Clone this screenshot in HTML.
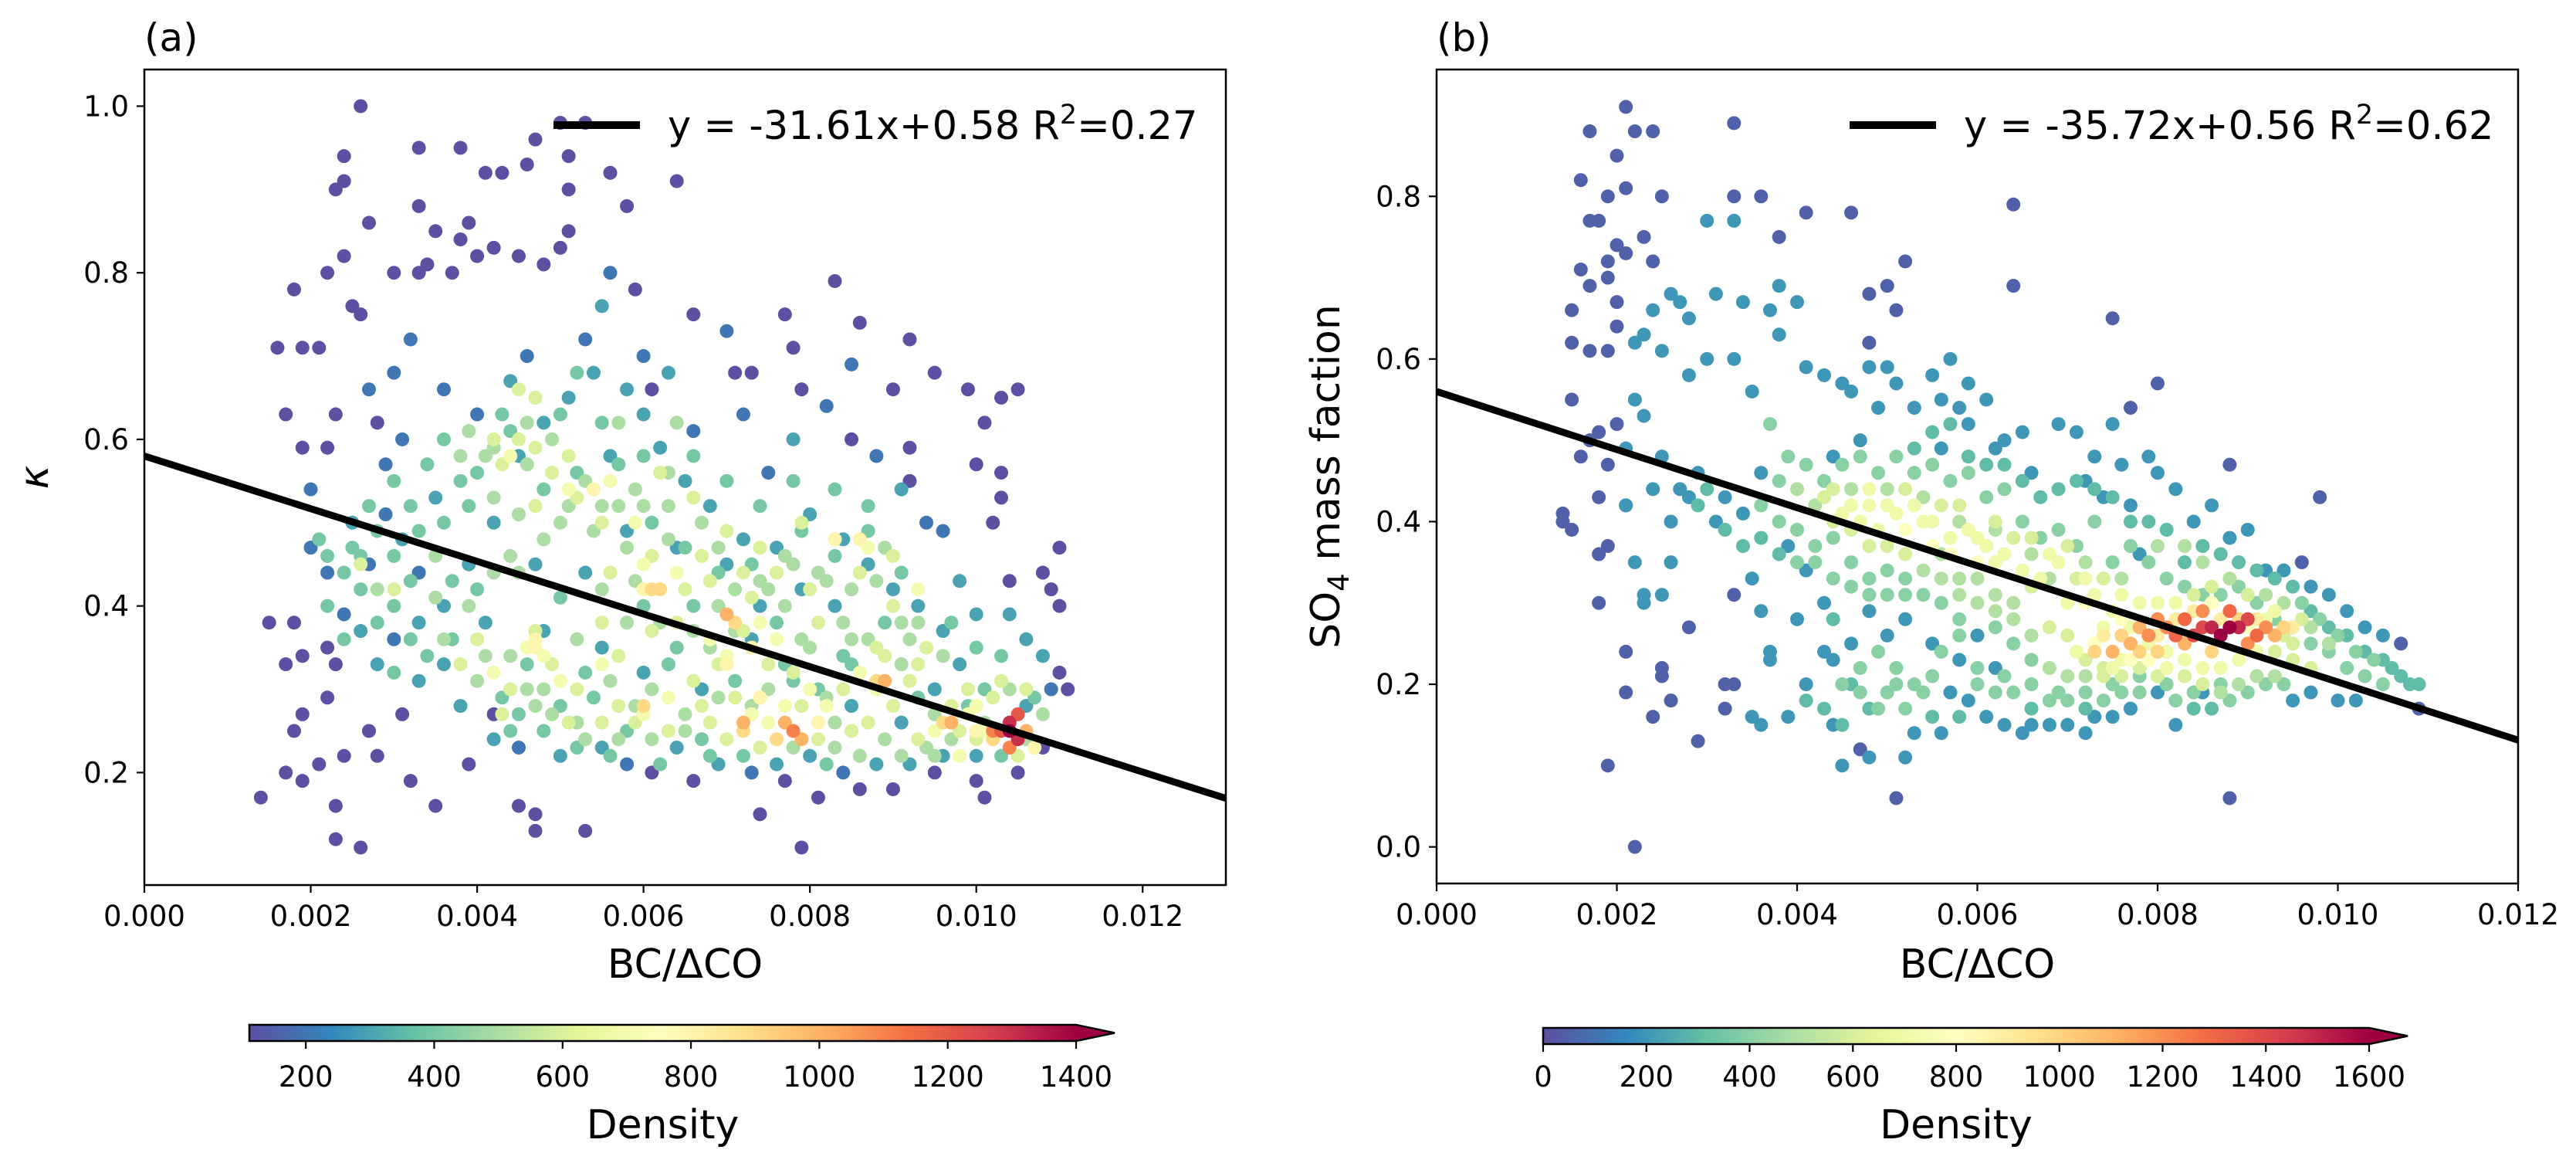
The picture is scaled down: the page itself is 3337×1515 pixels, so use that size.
<!DOCTYPE html>
<html><head><meta charset="utf-8">
<style>
html,body{margin:0;padding:0;background:#fff;}
svg{display:block;font-family:"DejaVu Sans","Liberation Sans",sans-serif;}
</style></head>
<body>
<svg id="fig" width="3337" height="1515" viewBox="0 0 3337 1515" xmlns="http://www.w3.org/2000/svg">
<defs>
<linearGradient id="cmap" x1="0" x2="1" y1="0" y2="0">
<stop offset="0" stop-color="#5e4fa2"/><stop offset="0.1" stop-color="#3288bd"/><stop offset="0.2" stop-color="#66c2a5"/><stop offset="0.3" stop-color="#abdda4"/><stop offset="0.4" stop-color="#e6f598"/><stop offset="0.5" stop-color="#ffffbf"/><stop offset="0.6" stop-color="#fee08b"/><stop offset="0.7" stop-color="#fdae61"/><stop offset="0.8" stop-color="#f46d43"/><stop offset="0.9" stop-color="#d53e4f"/><stop offset="1" stop-color="#9e0142"/>
</linearGradient>
<clipPath id="clipA"><rect x="187" y="90" width="1401" height="1056"/></clipPath>
<clipPath id="clipB"><rect x="1861" y="90" width="1401" height="1054"/></clipPath>
</defs>
<g id="panelA"></g>
<g id="panelB"></g>
</svg>
<script>
// ---------- Panel (a) data: [x*1e4, y*100, density/100]
const pointsA = [[26,100,1],[50,98,1],[53,98,1],[47,96,1],[33,95,1],[38,95,1],[24,94,1],[46,93,1],[51,94,1],[43,92,1],[41,92,1],[56,92,1],[64,91,1],[23,90,1],[24,91,1],[51,90,1],[58,88,1],[33,88,1],[27,86,1],[39,86,1],[35,85,1],[51,85,1],[38,84,1],[42,83,1],[50,83,1],[40,82,1],[45,82,1],[24,82,1],[48,81,1],[34,81,1],[22,80,1],[30,80,1],[33,80,1],[37,80,1],[18,78,1],[59,78,1],[83,79,1],[25,76,1],[26,75,1],[77,75,1],[66,75,1],[86,74,1],[92,72,1],[16,71,1],[19,71,1],[21,71,1],[78,71,1],[95,68,1],[73,68,1],[71,68,1],[99,66,1],[103,65,1],[105,66,1],[90,66,1],[79,66,1],[61,66,1],[17,63,1],[23,63,1],[28,62,1],[19,59,1],[22,59,1],[85,60,1],[101,62,1],[100,57,1],[92,59,1],[103,56,1],[92,55,1],[103,53,1],[102,50,1],[108,44,1],[110,47,1],[109,42,1],[110,40,1],[104,43,1],[15,38,1],[18,38,1],[14,17,1],[17,20,1],[19,19,1],[21,21,1],[23,16,1],[23,12,1],[26,11,1],[35,16,1],[45,16,1],[47,13,1],[47,15,1],[53,13,1],[79,11,1],[74,15,1],[24,22,1],[27,25,1],[22,29,1],[18,25,1],[19,27,1],[17,33,1],[19,34,1],[22,35,1],[23,33,1],[39,21,1],[42,27,1],[31,27,1],[32,19,1],[28,22,1],[61,20,1],[66,19,1],[77,19,1],[90,18,1],[101,17,1],[108,23,1],[111,30,1],[110,32,1],[105,20,1],[100,19,1],[95,20,1],[86,18,1],[81,17,1],
[20,54,2],[20,47,2],[22,44,2],[25,50,3],[27,45,2],[29,51,2],[31,48,3],[33,44,2],[35,53,3],[29,57,2],[31,60,2],[27,66,2],[30,68,2],[32,72,2],[36,66,2],[40,63,2],[44,67,3],[46,70,2],[53,72,2],[55,76,3],[56,80,2],[60,70,2],[63,68,3],[66,61,2],[70,73,2],[72,63,2],[75,56,2],[78,60,3],[82,64,2],[85,69,2],[88,58,2],[91,54,3],[94,50,2],[96,49,2],[98,43,3],[100,39,3],[104,39,3],[106,36,3],[108,34,3],[109,30,2],[106,28,3],[33,38,3],[36,33,3],[38,28,3],[42,24,3],[45,23,2],[50,22,3],[55,23,3],[58,21,2],[64,23,3],[69,21,3],[73,20,2],[76,21,3],[80,22,3],[84,20,2],[88,21,3],[92,21,3],[96,22,3],[100,22,3],[26,37,3],[24,39,2],[28,33,3],[30,36,2],[33,31,3],[36,40,3],[39,45,3],[42,50,3],[45,58,3],[48,62,3],[51,65,3],[54,68,3],[58,66,3],[62,59,3],[65,55,3],[68,52,3],[72,48,3],[76,47,3],[80,51,3],[84,48,3],[87,45,3],[90,42,3],[93,40,3],[96,37,3],[41,38,3],[47,45,3],[53,44,3],[58,49,3],[64,47,3],[70,45,3],[74,40,3],[79,42,3],[83,40,3],[67,30,3],[60,32,3],[55,35,3],[48,37,3],[85,28,3],[91,26,3],[95,30,3],[98,33,3],[73,36,3],[56,58,3],[60,63,3],
[21,48,4],[24,44,4],[26,46,4],[28,42,5],[30,40,4],[33,49,4],[35,46,5],[37,36,4],[40,31,5],[43,29,4],[44,34,5],[46,33,4],[48,30,5],[50,28,4],[52,26,5],[54,29,4],[56,31,5],[58,25,4],[61,30,5],[63,33,4],[65,27,5],[67,24,4],[69,29,5],[71,31,4],[73,28,5],[75,30,5],[77,33,4],[79,36,5],[81,30,4],[83,26,5],[85,33,4],[87,36,5],[89,38,4],[91,33,5],[93,29,4],[95,27,5],[97,24,5],[99,28,4],[101,26,5],[103,22,4],[106,24,5],[40,56,4],[42,59,5],[44,61,4],[46,57,5],[48,54,4],[50,50,5],[52,56,4],[55,52,5],[57,57,4],[59,54,5],[61,50,4],[63,52,5],[65,47,4],[67,50,5],[69,44,4],[71,42,5],[73,45,4],[75,42,5],[77,46,5],[79,49,4],[81,44,5],[83,46,4],[85,42,5],[87,49,4],[89,47,5],[91,44,4],[93,38,5],[38,58,5],[36,60,4],[39,61,5],[43,63,4],[47,65,5],[52,68,4],[57,62,5],[60,58,4],[64,62,5],[50,41,4],[55,42,5],[60,40,4],[62,38,5],[66,40,4],[71,37,5],[76,38,4],[80,35,5],[84,34,4],[45,44,5],[40,42,4],[35,41,5],[32,43,4],[64,35,4],[68,35,5],[78,31,4],[82,29,5],[59,28,5],[53,32,4],
[45,66,6],[47,65,6],[44,58,7],[47,59,6],[42,60,6],[51,54,7],[52,53,6],[56,55,7],[59,50,7],[62,56,6],[66,53,6],[70,49,6],[74,47,6],[79,50,6],[83,48,7],[87,47,7],[90,46,6],[93,42,7],[40,36,6],[42,32,7],[44,30,6],[46,35,7],[47,37,6],[50,31,7],[52,30,6],[55,33,7],[57,28,6],[60,27,7],[63,29,7],[66,31,6],[68,36,7],[70,34,7],[72,37,6],[74,38,7],[76,36,7],[78,32,6],[80,30,7],[82,28,7],[84,30,6],[86,32,7],[88,30,7],[90,28,6],[92,31,6],[95,25,7],[98,22,7],[100,24,6],[101,25,7],[103,31,6],[105,22,6],[48,34,7],[47,36,8],[60,45,7],[64,44,7],[54,54,8],[30,42,6],[26,45,6],[70,24,6],[74,23,6],[68,26,6],
[47,35,8],[60,42,8],[61,42,9],[62,42,9],[60,28,9],[70,39,10],[71,38,9],[72,26,10],[72,25,9],[73,35,8],[78,25,11],[77,26,10],[79,24,10],[76,24,9],[89,31,10],[88,31,9],[97,26,10],[96,26,9],[102,25,11],[103,25,12],[104,26,13],[104,25,14],[105,24,13],[105,27,12],[104,23,11],[102,24,9],[106,25,10],[74,29,8],[83,48,8],[86,48,8],[100,25,8],[107,23,8],[81,26,8],[70,33,8],
[41,58,5],[43,57,6],[45,60,6],[49,60,5],[51,58,6],[53,55,5],[55,50,6],[57,52,5],[58,47,5],[61,46,6],[63,48,5],[67,46,6],[69,47,5],[72,44,6],[74,43,5],[76,44,6],[78,45,5],[80,42,6],[82,43,5],[86,44,6],[88,43,5],[90,40,6],[92,36,5],[94,35,6],[96,34,5],[99,30,6],[100,28,7],[102,29,6],[104,30,5],[106,30,6],[108,27,5],[97,28,6],[93,33,6],[89,34,6],[85,36,5],[81,38,6],[77,40,5],[73,41,6],[69,40,5],[65,42,6],[61,37,6],[58,38,5],[55,38,6],[52,36,5],[49,33,6],[46,30,5],[43,27,6],[41,34,5],[38,33,6],[36,36,5],[34,34,4],[32,36,4],[30,32,4],[28,38,4],[26,42,4],[24,36,4],[22,40,4],[22,46,4],[25,47,4],[39,52,4],[42,53,5],[45,51,5],[47,52,6],[49,56,6],[51,52,5],[54,49,5],[56,44,6],[59,43,5],[62,42,6],[66,37,5],[69,33,6],[71,29,6],[73,27,7],[75,26,7],[77,28,7],[79,28,6],[81,24,6],[83,23,5],[85,25,6],[87,26,6],[89,24,5],[91,22,5],[93,24,6],[95,22,5],[67,28,6],[65,25,5],[63,25,6],[61,24,5],[59,26,6],[57,24,5],[55,26,6],[53,24,5],[51,26,6],[49,27,5],[47,28,5],[45,27,4],[44,25,4],[48,25,4],[52,23,4],[56,22,4],[62,21,4],[68,22,4],[72,22,4],[78,23,5],[82,21,4],[86,22,5],[94,23,5],[98,25,6],[99,27,7],[107,29,4],[101,30,4],[103,34,4],[100,35,4],[97,38,4],[60,52,5],[63,56,5],[66,58,4],[70,55,4],[74,52,4],[78,55,4],[83,54,4],[87,52,4],[55,62,4],[50,63,4],[46,62,5],[38,55,4],[36,50,4],[34,57,4],[32,52,4],[30,46,4],[28,49,4],[27,52,4],[30,55,4],[48,48,5],[44,46,5],[42,44,5],[39,40,5],[37,43,4],[57,34,6],[64,38,6],[68,43,6],[75,33,6],[84,38,5],[88,35,6],[91,38,5]];
const slopeA = -31.61, interceptA = 0.58, r2A = 0.27;
const xTicksA = ["0.000","0.002","0.004","0.006","0.008","0.010","0.012"];
const xTickValsA = [0,0.002,0.004,0.006,0.008,0.010,0.012];
const yTickValsA = [0.2,0.4,0.6,0.8,1.0];
const yTicksA = ["0.2","0.4","0.6","0.8","1.0"];
const cbarTicksA = [200,400,600,800,1000,1200,1400];

// ---------- Panel (b) data
const pointsB = [[21,91,0.5],[33,89,0.5],[17,88,0.5],[22,88,0.5],[24,88,0.5],[20,85,0.5],[16,82,0.5],[21,81,0.5],[25,80,0.5],[19,80,0.5],[17,77,0.5],[18,77,0.5],[23,75,0.5],[20,74,0.5],[21,73,0.5],[19,72,0.5],[24,72,0.5],[16,71,0.5],[17,69,0.5],[19,70,0.5],[15,66,0.5],[15,62,0.5],[17,61,0.5],[19,61,0.5],[20,64,0.5],[20,67,0.5],[18,51,0.5],[16,48,0.5],[20,52,0.5],[19,47,0.5],[14,41,0.5],[14,40,0.5],[15,39,0.5],[18,43,0.5],[21,42,0.5],[18,36,0.5],[18,30,0.5],[19,37,0.5],[21,24,0.5],[21,19,0.5],[19,10,0.5],[22,0,0.5],[24,16,0.5],[25,21,0.5],[26,18,0.5],[25,22,0.5],[29,13,0.5],[32,20,0.5],[32,17,0.5],[33,20,0.5],[33,31,0.5],[28,27,0.5],[48,62,0.5],[50,69,0.5],[51,66,0.5],[52,72,0.5],[48,68,0.5],[64,79,0.5],[64,69,0.5],[46,78,0.5],[41,78,0.5],[36,80,0.5],[33,80,0.5],[38,75,0.5],[88,6,0.5],[51,6,0.5],[47,12,0.5],[80,57,0.5],[77,54,0.5],[88,47,0.5],[98,43,0.5],[96,35,0.5],[107,25,0.5],[109,17,0.5],[75,65,0.5],[15,55,0.5],[17,50,0.5],
[23,63,2],[22,62,2],[24,66,2],[26,68,2],[27,67,2],[28,65,2],[25,61,2],[22,55,2],[23,53,2],[21,49,2],[25,48,2],[27,44,2],[29,46,2],[24,44,2],[21,42,2],[26,40,2],[28,43,2],[22,35,2],[23,31,2],[23,30,2],[25,31,2],[26,35,2],[30,77,2],[33,77,2],[31,68,2],[30,60,2],[28,58,2],[33,60,2],[35,56,2],[34,67,2],[37,66,2],[38,63,2],[38,69,2],[40,67,2],[41,59,2],[43,58,2],[45,57,2],[48,59,2],[50,59,2],[51,57,2],[46,56,2],[49,54,2],[53,54,2],[55,58,2],[57,60,2],[59,57,2],[56,55,2],[58,54,2],[61,55,2],[63,50,2],[65,51,2],[66,46,2],[69,52,2],[71,51,2],[73,48,2],[75,52,2],[76,47,2],[77,42,2],[79,48,2],[80,46,2],[82,44,2],[84,40,2],[86,42,2],[88,38,2],[90,39,2],[92,34,2],[94,34,2],[97,32,2],[99,31,2],[101,29,2],[103,27,2],[105,26,2],[102,18,2],[100,18,2],[97,19,2],[95,18,2],[35,33,2],[36,29,2],[37,24,2],[37,23,2],[35,16,2],[36,15,2],[39,16,2],[41,20,2],[43,24,2],[44,15,2],[45,10,2],[48,11,2],[52,11,2],[53,14,2],[56,14,2],[57,19,2],[59,18,2],[61,16,2],[63,15,2],[65,14,2],[66,15,2],[68,15,2],[70,15,2],[72,14,2],[73,16,2],[75,16,2],[77,17,2],[80,19,2],[82,15,2],[85,19,2],[48,29,2],[50,26,2],[52,28,2],[55,25,2],[58,23,2],[60,26,2],[62,22,2],[46,25,2],[44,23,2],[31,40,2],[32,43,2],[34,41,2],[36,46,2],[39,37,2],[41,34,2],[43,30,2],[40,28,2],[56,49,2],[59,52,2],[62,49,2],[72,45,2],[74,43,2],[78,36,2],[44,48,2],[47,50,2],
[37,52,4],[39,48,4],[41,47,4],[43,45,4],[45,47,4],[47,48,4],[49,46,4],[51,48,4],[53,46,4],[55,47,4],[57,45,4],[59,46,4],[61,43,4],[63,44,4],[65,40,4],[67,38,4],[69,39,4],[71,37,4],[73,40,4],[75,35,4],[77,37,4],[79,35,4],[81,33,4],[83,32,4],[85,31,4],[87,31,4],[89,32,4],[91,30,4],[93,28,4],[95,27,4],[97,25,4],[99,24,4],[101,22,4],[103,21,4],[105,20,4],[94,20,4],[92,20,4],[90,19,4],[87,20,4],[84,19,4],[81,20,4],[78,21,4],[75,20,4],[72,19,4],[69,19,4],[66,20,4],[63,21,4],[60,20,4],[58,28,4],[56,30,4],[54,31,4],[52,33,4],[50,34,4],[48,33,4],[46,35,4],[44,38,4],[42,37,4],[40,39,4],[38,40,4],[36,42,4],[45,20,4],[47,19,4],[49,17,4],[51,20,4],[53,20,4],[55,21,4],[62,27,4],[64,25,4],[66,23,4],[47,22,4],[49,24,4],[51,22,4],[85,35,5],[83,37,5],[80,37,5],[76,33,5],[72,35,5],[68,33,5],[64,30,5],[62,31,5],[60,33,5],[58,33,5],[56,36,5],[46,44,5],[50,44,5],[54,43,5],[58,40,5],[62,39,5],[66,36,5],
[43,43,6],[45,41,7],[47,40,7],[49,39,7],[51,41,7],[53,42,7],[55,40,7],[57,38,7],[59,39,7],[61,37,7],[63,36,7],[65,34,7],[67,33,7],[69,35,7],[71,33,6],[73,31,7],[75,29,7],[77,27,7],[79,25,7],[81,24,7],[83,23,7],[85,22,7],[87,22,7],[89,23,7],[91,24,7],[93,24,6],[95,23,6],[97,22,6],[72,23,6],[74,22,6],[76,21,6],[78,22,6],[80,21,6],[70,26,6],[68,27,6],[52,36,6],[50,37,6],[48,37,6],[46,39,6],[44,40,6],[48,42,7],[52,39,8],[55,37,8],[57,36,8],[60,35,8],[62,35,7],[66,32,6],[70,30,7],[72,30,8],[74,27,7],[76,28,8],[92,28,7],[90,27,8],[94,26,6],[96,28,6],
[73,24,10],[75,24,11],[77,25,11],[79,26,12],[81,27,12],[83,28,13],[85,27,14],[86,27,15],[87,26,16],[88,27,16],[89,27,15],[90,28,14],[91,26,13],[92,27,12],[84,26,14],[82,26,13],[80,28,12],[78,27,11],[76,26,10],[93,26,11],[94,27,10],[85,29,12],[88,29,13],[90,25,12],[83,25,11],[86,24,10],[80,24,10],[78,24,10],[95,27,9],[74,26,9],
[38,45,4],[40,44,5],[42,42,5],[44,44,6],[46,42,7],[48,44,7],[50,42,7],[52,44,6],[54,40,7],[56,42,6],[58,42,6],[60,38,7],[62,40,6],[64,38,6],[66,38,6],[68,36,7],[70,37,6],[72,33,7],[74,33,6],[76,31,7],[78,30,7],[80,30,7],[82,30,7],[84,31,6],[86,32,6],[88,33,5],[90,31,6],[92,31,5],[94,30,5],[96,30,4],[98,28,4],[100,26,4],[102,24,4],[104,23,4],[106,22,3],[108,20,3],[79,23,8],[81,22,7],[83,21,6],[85,20,6],[87,19,5],[89,20,5],[91,21,5],[93,21,5],[76,23,7],[74,21,6],[72,21,5],[70,21,5],[68,22,5],[66,26,5],[64,28,5],[62,29,5],[60,30,5],[58,31,5],[56,33,5],[54,34,5],[52,31,4],[50,31,4],[48,31,4],[46,32,4],[44,33,4],[42,35,4],[40,35,4],[38,36,3],[36,38,3],[34,37,3],[32,39,3],[30,44,3],[29,42,3],[44,28,3],[46,20,3],[48,17,3],[50,19,4],[52,17,4],[54,19,4],[56,24,4],[58,26,4],[60,22,4],[62,19,4],[64,19,4],[66,17,3],[68,18,4],[70,18,4],[72,17,3],[74,18,4],[76,19,4],[78,19,4],[82,18,4],[84,17,3],[86,17,3],[88,18,4],[45,15,3],[43,17,3],[41,18,3],[55,16,3],[58,16,3],[53,49,3],[55,51,3],[57,52,3],[59,48,3],[61,47,3],[63,47,3],[65,45,3],[67,43,3],[69,44,3],[71,45,3],[73,44,3],[75,43,3],[77,40,3],[79,40,3],[81,39,3],[83,35,3],[85,37,3],[87,36,3],[89,35,3],[91,34,3],[93,33,3],[95,32,3],[97,29,3],[99,27,3],[101,26,3],[103,24,3],[105,23,3],[107,21,3],[109,20,3],[87,28,9],[89,28,10],[84,29,9],[82,28,9],[86,30,8],[91,28,9],[80,26,9],[77,23,8],[75,22,7],[73,25,8],[71,24,7],[93,29,7],[95,25,6],[97,27,5],[99,25,5]];
const slopeB = -35.72, interceptB = 0.56, r2B = 0.62;
const xTicksB = ["0.000","0.002","0.004","0.006","0.008","0.010","0.012"];
const xTickValsB = [0,0.002,0.004,0.006,0.008,0.010,0.012];
const yTickValsB = [0.0,0.2,0.4,0.6,0.8];
const yTicksB = ["0.0","0.2","0.4","0.6","0.8"];
const cbarTicksB = [0,200,400,600,800,1000,1200,1400,1600];

const NS = "http://www.w3.org/2000/svg";
const stops = [[94,79,162],[50,136,189],[102,194,165],[171,221,164],[230,245,152],[255,255,191],[254,224,139],[253,174,97],[244,109,67],[213,62,79],[158,1,66]];
function cmap(t){
  t = Math.max(0, Math.min(1, t));
  const f = t*10, i = Math.min(9, Math.floor(f)), r = f - i;
  const a = stops[i], b = stops[i+1];
  return "rgb(" + a.map((v,k)=>Math.round(v + (b[k]-v)*r)).join(",") + ")";
}
function mk(tag, attrs, parent, text){
  const e = document.createElementNS(NS, tag);
  for (const k in attrs) e.setAttribute(k, attrs[k]);
  if (text !== undefined) e.textContent = text;
  parent.appendChild(e);
  return e;
}

function drawPanel(cfg){
  const g = document.getElementById(cfg.id);
  const X = v => cfg.L + (v - cfg.xmin)/(cfg.xmax - cfg.xmin)*(cfg.R - cfg.L);
  const Y = v => cfg.B - (v - cfg.ymin)/(cfg.ymax - cfg.ymin)*(cfg.B - cfg.T);
  const pts = cfg.points.slice().sort((a,b)=>a[2]-b[2]);
  const pg = mk("g", {"clip-path": "url(#" + cfg.clip + ")"}, g);
  
  
  for (const p of pts){
    const dens = p[2]*100;
    const c = mk("circle", {cx: X(p[0]/1e4), cy: Y(p[1]/100), r: 9, fill: cmap((dens - cfg.vmin)/(cfg.vmax - cfg.vmin))}, pg);
    
    
  }
  const ln = mk("line", {x1: X(cfg.xmin), y1: Y(cfg.intercept + cfg.slope*cfg.xmin), x2: X(cfg.xmax), y2: Y(cfg.intercept + cfg.slope*cfg.xmax), stroke: "#000", "stroke-width": 9, "clip-path": "url(#" + cfg.clip + ")"}, g);
  
  
  const fr = mk("rect", {x: cfg.L, y: cfg.T, width: cfg.R - cfg.L, height: cfg.B - cfg.T, fill: "none", stroke: "#000", "stroke-width": 2.5}, g);
  
  
  cfg.xTickVals.forEach((v,i)=>{
    const x = X(v);
    const t = mk("line", {x1: x, x2: x, y1: cfg.B, y2: cfg.B + 10, stroke: "#000", "stroke-width": 2.2}, g);
    
    
    const tx = mk("text", {x: x, y: cfg.B + 53, "text-anchor": "middle", "font-size": 37}, g, cfg.xTicks[i]);
    
    
  });
  cfg.yTickVals.forEach((v,i)=>{
    const y = Y(v);
    const t = mk("line", {x1: cfg.L - 10, x2: cfg.L, y1: y, y2: y, stroke: "#000", "stroke-width": 2.2}, g);
    
    
    const tx = mk("text", {x: cfg.L - 20, y: y + 13, "text-anchor": "end", "font-size": 37}, g, cfg.yTicks[i]);
    
    
  });
  const xl = mk("text", {x: (cfg.L + cfg.R)/2, y: 1266, "text-anchor": "middle", "font-size": 52}, g, "BC/ΔCO");
  
  
  const yl = mk("text", {x: 0, y: 0, "text-anchor": "middle", "font-size": 52, transform: "translate(" + cfg.ylx + "," + (cfg.T + cfg.B)/2 + ") rotate(-90)"}, g);
  
  
  yl.innerHTML = cfg.ylabel;
  const pl = mk("text", {x: cfg.L, y: 66, "font-size": 50}, g, cfg.tag);
  
  
  const lg = mk("g", {}, g);
  
  
  mk("line", {x1: cfg.legX, x2: cfg.legX + 112, y1: cfg.legY, y2: cfg.legY, stroke: "#000", "stroke-width": 10}, lg);
  const lt = mk("text", {x: cfg.legX + 148, y: cfg.legY + 18, "font-size": 51}, lg);
  lt.innerHTML = "y = " + cfg.slope.toFixed(2) + "x+" + cfg.intercept.toFixed(2) + " R<tspan dy='-20' font-size='35'>2</tspan><tspan dy='20'>=" + cfg.r2.toFixed(2) + "</tspan>";
  const cb = mk("g", {}, g);
  
  
  mk("rect", {x: cfg.cbL, y: cfg.cbT, width: cfg.cbR - cfg.cbL, height: cfg.cbH, fill: "url(#cmap)"}, cb);
  mk("polygon", {points: cfg.cbR + "," + cfg.cbT + " " + (cfg.cbR + 50) + "," + (cfg.cbT + cfg.cbH/2) + " " + cfg.cbR + "," + (cfg.cbT + cfg.cbH), fill: "#9e0142"}, cb);
  mk("polygon", {points: cfg.cbL + "," + cfg.cbT + " " + cfg.cbR + "," + cfg.cbT + " " + (cfg.cbR + 50) + "," + (cfg.cbT + cfg.cbH/2) + " " + cfg.cbR + "," + (cfg.cbT + cfg.cbH) + " " + cfg.cbL + "," + (cfg.cbT + cfg.cbH), fill: "none", stroke: "#000", "stroke-width": 2.5}, cb);
  const CX = v => cfg.cbL + (v - cfg.vmin)/(cfg.vmax - cfg.vmin)*(cfg.cbR - cfg.cbL);
  cfg.cbarTicks.forEach(v=>{
    const x = CX(v);
    mk("line", {x1: x, x2: x, y1: cfg.cbT + cfg.cbH, y2: cfg.cbT + cfg.cbH + 10, stroke: "#000", "stroke-width": 2.2}, cb);
    const t = mk("text", {x: x, y: 1407, "text-anchor": "middle", "font-size": 37}, cb, String(v));
    
    
  });
  const dl = mk("text", {x: (cfg.cbL + cfg.cbR)/2, y: 1474, "text-anchor": "middle", "font-size": 52}, cb, "Density");
  
  
}

drawPanel({id: "panelA", clip: "clipA", L: 187, R: 1588, T: 90, B: 1146, xmin: 0, xmax: 0.013, ymin: 0.065, ymax: 1.044,
  points: pointsA, slope: slopeA, intercept: interceptA, r2: r2A, xTicks: xTicksA, xTickVals: xTickValsA, yTicks: yTicksA, yTickVals: yTickValsA,
  ylabel: "<tspan font-style='italic'>κ</tspan>", ylx: 62, tag: "(a)", legX: 717, legY: 162,
  vmin: 112, vmax: 1400, cbL: 323, cbR: 1394, cbT: 1327, cbH: 21, cbarTicks: cbarTicksA});
drawPanel({id: "panelB", clip: "clipB", L: 1861, R: 3262, T: 90, B: 1144, xmin: 0, xmax: 0.012, ymin: -0.045, ymax: 0.956,
  points: pointsB, slope: slopeB, intercept: interceptB, r2: r2B, xTicks: xTicksB, xTickVals: xTickValsB, yTicks: yTicksB, yTickVals: yTickValsB,
  ylabel: "SO<tspan dy='12' font-size='37'>4</tspan><tspan dy='-12'> mass faction</tspan>", ylx: 1735, tag: "(b)", legX: 2396, legY: 162,
  vmin: 0, vmax: 1600, cbL: 1999, cbR: 3069, cbT: 1331, cbH: 21, cbarTicks: cbarTicksB});
</script>
</body></html>
